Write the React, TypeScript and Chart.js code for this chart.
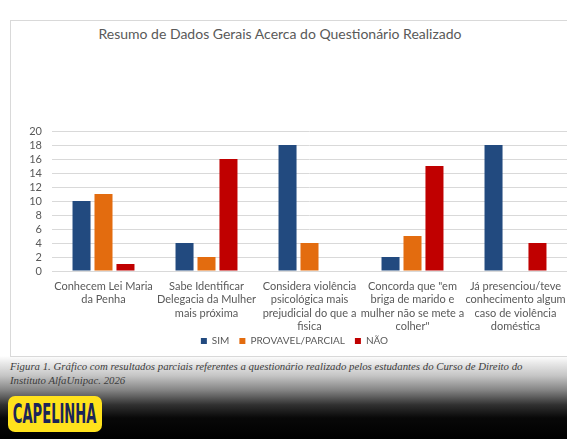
import React, { useEffect, useRef } from "react";
import { Chart, registerables } from "chart.js";

Chart.register(...registerables);

const chartTitle = "Resumo de Dados Gerais Acerca do Questionário Realizado";

const categories: string[][] = [
  ["Conhecem Lei Maria", "da Penha"],
  ["Sabe Identificar", "Delegacia da Mulher", "mais próxima"],
  ["Considera violência", "psicológica mais", "prejudicial do que a", "fisica"],
  ["Concorda que \"em", "briga de marido e", "mulher não se mete a", "colher\""],
  ["Já presenciou/teve", "conhecimento algum", "caso de violência", "doméstica"],
];

const seriesNames = ["SIM", "PROVAVEL/PARCIAL", "NÃO"];
const simValues = [10, 4, 18, 2, 18];
const provavelValues = [11, 2, 4, 5, 0];
const naoValues = [1, 16, 0, 15, 4];

const yMin = 0;
const yMax = 20;
const yStep = 2;

const captionLines = [
  "Figura 1. Gráfico com resultados parciais referentes a questionário realizado pelos estudantes do Curso de Direito do",
  "Instituto AlfaUnipac. 2026",
];
const logoText = "CAPELINHA";

const FONT = "Lato, 'Open Sans', sans-serif";
const TEXT = "#595959";

// lets the multi-line category labels extend below the x-scale box without being clipped
const extendLabelArea = {
  id: "extendLabelArea",
  afterLayout(chart: any) {
    const x = chart.scales.x;
    if (x) x.bottom += 14;
  },
};

export default function App() {
  const canvasRef = useRef<HTMLCanvasElement | null>(null);

  useEffect(() => {
    const canvas = canvasRef.current;
    if (!canvas) return;
    const font = { family: FONT, size: 11, lineHeight: 1.2 };
    const chart = new Chart(canvas, {
      type: "bar",
      data: {
        labels: categories,
        datasets: [
          { label: seriesNames[0], data: simValues, backgroundColor: "#224A7F", borderWidth: 0 },
          { label: seriesNames[1], data: provavelValues, backgroundColor: "#E36C0F", borderWidth: 0 },
          { label: seriesNames[2], data: naoValues, backgroundColor: "#C00000", borderWidth: 0 },
        ],
      },
      plugins: [extendLabelArea],
      options: {
        animation: false,
        responsive: false,
        maintainAspectRatio: false,
        devicePixelRatio: 1,
        layout: { padding: { left: 11, right: 14, top: 110, bottom: 0 } },
        datasets: { bar: { categoryPercentage: 0.64, barPercentage: 0.82 } },
        plugins: {
          title: { display: false },
          tooltip: { enabled: false },
          legend: {
            position: "bottom",
            labels: {
              boxWidth: 6,
              boxHeight: 6,
              padding: 10,
              color: TEXT,
              font: { family: FONT, size: 10 },
            },
          },
        },
        scales: {
          x: {
            grid: { display: false, drawTicks: false },
            border: { color: "#d9d9d9" },
            ticks: { color: TEXT, font, padding: 9, maxRotation: 0, autoSkip: false },
            afterFit: (s: any) => {
              s.height = 55;
            },
          },
          y: {
            min: yMin,
            max: yMax,
            ticks: { stepSize: yStep, autoSkip: false, color: TEXT, font: { family: FONT, size: 11 }, padding: 10 },
            grid: { color: "#d9d9d9", drawTicks: false },
            border: { display: false },
            afterFit: (s: any) => {
              s.width = 30;
            },
          },
        },
      },
    });
    return () => chart.destroy();
  }, []);

  return (
    <div
      style={{
        position: "fixed",
        left: 0,
        top: 0,
        width: 567,
        height: 439,
        overflow: "hidden",
        background:
          "linear-gradient(to bottom, #ffffff 0px, #ffffff 356px, #e6e6e6 364px, #c4c4c4 376px, #858585 390px, #303030 405px, #080808 418px, #000 439px)",
      }}
    >
      <div
        style={{
          position: "absolute",
          left: 10,
          top: 20,
          width: 570,
          height: 335,
          background: "#fff",
          border: "1px solid #d9d9d9",
        }}
      >
        <div
          style={{
            position: "absolute",
            left: 0,
            top: 4,
            width: 538,
            textAlign: "center",
            fontFamily: FONT,
            fontSize: 14,
            lineHeight: "18px",
            color: TEXT,
            whiteSpace: "nowrap",
          }}
        >
          {chartTitle}
        </div>
        <canvas
          ref={canvasRef}
          width={570}
          height={335}
          style={{ position: "absolute", left: 0, top: 0, width: 570, height: 335 }}
        />
      </div>
      <div
        style={{
          position: "absolute",
          left: 10,
          top: 359,
          fontFamily: "'Liberation Serif', 'Times New Roman', serif",
          fontStyle: "italic",
          fontSize: 10.8,
          lineHeight: "14px",
          color: "#3c3c3c",
          whiteSpace: "nowrap",
        }}
      >
        {captionLines[0]}
        <br />
        {captionLines[1]}
      </div>
      <div
        style={{
          position: "absolute",
          left: 8,
          top: 396,
          width: 94,
          height: 36,
          background: "#FFE21C",
          borderRadius: 7,
          display: "flex",
          alignItems: "center",
          justifyContent: "center",
          overflow: "hidden",
        }}
      >
        <span
          style={{
            display: "inline-block",
            fontFamily: "'DejaVu Sans Condensed', 'DejaVu Sans', sans-serif",
            fontWeight: 700,
            fontSize: 26,
            lineHeight: "26px",
            color: "#1B2558",
            transform: "scaleX(0.56)",
            whiteSpace: "nowrap",
          }}
        >
          {logoText}
        </span>
      </div>
    </div>
  );
}
